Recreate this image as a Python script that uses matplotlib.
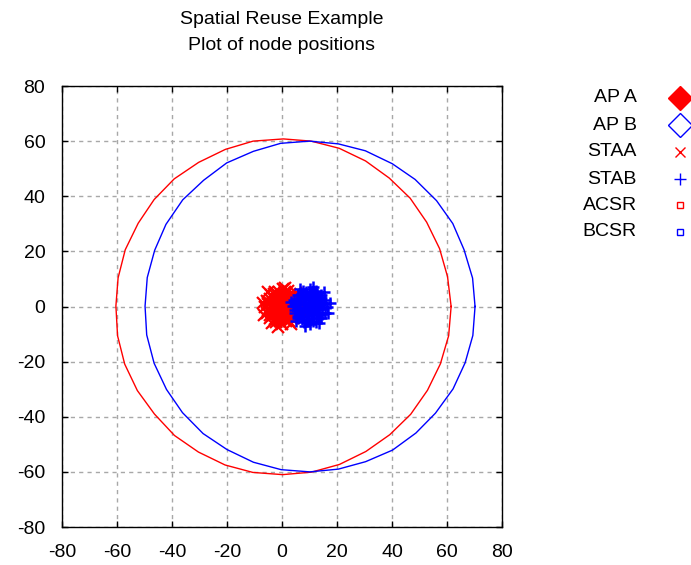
import numpy as np
from matplotlib import pyplot as plt
from matplotlib.lines import Line2D

plt.rcParams['axes.unicode_minus'] = False

# access points
ap_a_x = [0.0]
ap_a_y = [0.0]
ap_b_x = [10.0]
ap_b_y = [0.0]

# stations around AP A
sta_a_x = [6.1, 5.4, 4.3, 2.2, 0.2, -2.4, -4.1, -5.6, -6.2, -5.3, -4.3, -2.2, 0.1, 2.4, 4.0, 5.6,
           4.3, 3.0, 1.2, -1.4, -3.3, -4.5, -4.1, -3.1, -0.9, 1.4, 3.2, 4.6,
           2.6, 1.5, -0.3, -2.1, -2.5, -1.2, 0.7, 2.0,
           0.0, 0.9, -0.8, -7.0, -6.7, 6.4, 1.1, -1.6, 5.1, -5.0, 3.4, -3.6,
           5.2, 4.3, 2.8, 1.0, -1.2, -3.0, -4.4, -5.2, -5.1, -4.2, -2.7, -0.9, 1.3, 3.1, 4.5,
           3.4, 3.0, 1.7, -0.2, -1.9, -3.2, -3.4, -2.6, -0.8, 1.2, 2.8,
           1.3, 0.4, -1.1, -1.0, 0.4]
sta_a_y = [0.3, 2.5, 4.0, 5.6, 6.2, 5.4, 4.3, 2.1, -0.2, -2.5, -4.1, -5.7, -6.3, -5.4, -4.3, -2.2,
           1.3, 3.4, 4.3, 4.3, 3.0, 1.1, -1.5, -3.2, -4.5, -4.2, -3.0, -0.8,
           0.4, 2.1, 2.6, 1.4, -0.7, -2.3, -2.4, -1.5,
           0.0, 0.7, -0.6, 1.4, -3.1, -1.1, 6.6, -7.3, 5.0, 5.3, -6.2, -6.0,
           1.1, 3.1, 4.5, 5.2, 5.2, 4.4, 2.9, 1.0, -1.3, -3.2, -4.6, -5.2, -5.1, -4.3, -2.8,
           -0.4, 1.8, 3.1, 3.5, 2.9, 1.4, -0.6, -2.4, -3.4, -3.3, -2.1,
           0.0, 1.2, 0.7, -0.9, -1.3]

# stations around AP B
sta_b_x = [16.2, 15.6, 14.1, 12.4, 10.1, 7.6, 5.9, 4.5, 3.9, 4.6, 5.8, 7.9, 10.2, 12.3, 14.2, 15.5,
           14.4, 13.2, 11.0, 8.7, 6.8, 5.6, 5.8, 7.0, 9.1, 11.4, 13.3, 14.6,
           12.5, 11.6, 9.8, 8.0, 7.5, 8.8, 10.6, 12.1,
           10.0, 10.9, 9.2, 17.3, 16.8, 3.2, 11.2, 8.4, 15.1, 5.0, 13.6, 6.4,
           15.3, 14.2, 12.9, 11.1, 8.7, 7.1, 5.5, 4.8, 4.9, 5.7, 7.4, 9.0, 11.2, 13.0, 14.4,
           13.5, 12.9, 11.8, 9.7, 8.0, 6.7, 6.5, 7.5, 9.3, 11.3, 12.7,
           11.3, 10.5, 8.9, 9.1, 10.3]
sta_b_y = [-0.2, 2.3, 4.2, 5.5, 6.3, 5.6, 4.1, 2.4, 0.1, -2.3, -4.2, -5.5, -6.2, -5.6, -4.0, -2.4,
           1.1, 3.3, 4.4, 4.2, 3.1, 1.2, -1.3, -3.4, -4.4, -4.3, -3.1, -1.0,
           0.2, 2.2, 2.5, 1.6, -0.5, -2.1, -2.5, -1.4,
           0.0, 0.8, -0.7, 1.2, -2.4, 1.6, 7.0, -7.1, 5.3, -5.1, -6.1, 6.2,
           1.0, 3.2, 4.4, 5.3, 5.1, 4.5, 2.8, 0.9, -1.2, -3.3, -4.5, -5.3, -5.2, -4.2, -2.9,
           -0.3, 1.9, 3.0, 3.5, 2.8, 1.5, -0.5, -2.5, -3.4, -3.2, -2.2,
           0.1, 1.2, 0.6, -1.0, -1.2]

# carrier sense range polygons
a_csr_x = [61.5, 60.2, 57.3, 52.6, 46.6, 39.0, 30.4, 20.8, 10.6, 0.5, -10.5, -20.6, -30.3, -39.2, -46.5, -52.3,
           -57.0, -59.6, -60.4, -59.8, -57.2, -52.6, -46.4, -39.1, -30.4, -20.7, -10.6, 0.2, 10.7, 20.9,
           30.5, 39.2, 46.8, 52.9, 57.6, 60.6, 61.5]
a_csr_y = [0.0, 10.8, 21.0, 30.6, 39.3, 46.6, 52.8, 57.4, 60.0, 60.8, 60.0, 57.0, 52.3, 46.3, 38.8, 30.2,
           20.6, 10.4, 0.2, -10.6, -20.9, -30.5, -39.0, -46.8, -52.8, -57.5, -60.2, -61.0, -60.1, -57.3,
           -52.6, -46.5, -39.1, -30.4, -20.8, -10.6, 0.0]
b_csr_x = [70.2, 69.3, 66.2, 62.1, 56.2, 48.4, 40.1, 30.3, 20.5, 10.0, -0.5, -10.4, -20.1, -28.5, -36.1, -42.2,
           -46.3, -49.0, -49.8, -49.2, -46.5, -42.0, -36.2, -28.7, -20.0, -10.4, -0.3, 10.1, 20.5, 30.4,
           40.2, 48.7, 55.8, 62.2, 66.6, 69.4, 70.2]
b_csr_y = [0.0, 10.3, 20.6, 30.1, 38.4, 46.1, 51.8, 56.5, 59.0, 60.0, 59.2, 56.3, 52.1, 45.8, 38.7, 29.8,
           20.4, 10.5, 0.1, -10.3, -20.6, -30.1, -38.5, -46.1, -51.9, -56.5, -59.2, -60.0, -59.0, -56.3,
           -52.1, -45.9, -38.7, -29.9, -20.4, -10.5, 0.0]

ticks = [-80, -60, -40, -20, 0, 20, 40, 60, 80]

RED = '#ff0000'
BLUE = '#0000ff'
FONT = 'Liberation Sans'


def plot_nodes(ax):
    ax.plot(ap_a_x, ap_a_y, 'D', color=RED, ms=12, zorder=2)
    ax.plot(ap_b_x, ap_b_y, 'D', mfc='none', mec=BLUE, ms=12, mew=1, zorder=2)
    ax.plot(sta_a_x, sta_a_y, 'x', color=RED, ms=8, mew=1.6, zorder=3)
    ax.plot(sta_b_x, sta_b_y, '+', color=BLUE, ms=9, mew=1.8, zorder=3)
    ax.plot(a_csr_x, a_csr_y, '-', color=RED, lw=1, zorder=4)
    ax.plot(b_csr_x, b_csr_y, '-', color=BLUE, lw=1, zorder=4)


def draw_key(fig):
    # key entries placed outside the plot on the right, text right aligned
    W, H = 691.0, 565.0
    rows = [98, 125, 152, 179, 205, 232]
    labels = ['AP A', 'AP B', 'STAA', 'STAB', 'ACSR', 'BCSR']
    styles = [dict(marker='D', color=RED, ms=12, ls='none'),
              dict(marker='D', mfc='none', mec=BLUE, ms=12, mew=1, ls='none'),
              dict(marker='x', color=RED, ms=7, mew=1, ls='none'),
              dict(marker='+', color=BLUE, ms=8, mew=1, ls='none'),
              dict(marker='s', color=RED, ms=5, mfc='none', mew=1, ls='none'),
              dict(marker='s', color=BLUE, ms=5, mfc='none', mew=1, ls='none')]
    for ypx, lab, st in zip(rows, labels, styles):
        fy = 1 - ypx / H
        fig.text(637 / W, fy, lab, ha='right', va='center', fontsize=14, family=FONT)
        fig.add_artist(Line2D([680 / W], [fy], transform=fig.transFigure, **st))


def main():
    fig = plt.figure(figsize=(6.91, 5.65), dpi=100)
    ax = fig.add_axes([62 / 691, 1 - 527 / 565, 440 / 691, 441 / 565])

    plot_nodes(ax)

    ax.set_xlim(-80, 80)
    ax.set_ylim(-80, 80)
    ax.set_xticks(ticks)
    ax.set_yticks(ticks)
    ax.grid(True, color='#a8a8a8', linestyle=(0, (3, 3)), linewidth=1)
    ax.set_axisbelow(True)
    ax.tick_params(direction='in', length=4, width=1, top=True, right=True,
                   labelsize=14, pad=12)
    for lab in ax.get_xticklabels() + ax.get_yticklabels():
        lab.set_family(FONT)
    for sp in ax.spines.values():
        sp.set_linewidth(1)

    fig.text(282 / 691, 1 - 20 / 565, 'Spatial Reuse Example', ha='center', va='center',
             fontsize=14, family=FONT)
    fig.text(282 / 691, 1 - 45 / 565, 'Plot of node positions', ha='center', va='center',
             fontsize=14, family=FONT)

    draw_key(fig)

    fig.savefig('out.png', dpi=100)


if __name__ == "__main__":
    main()
